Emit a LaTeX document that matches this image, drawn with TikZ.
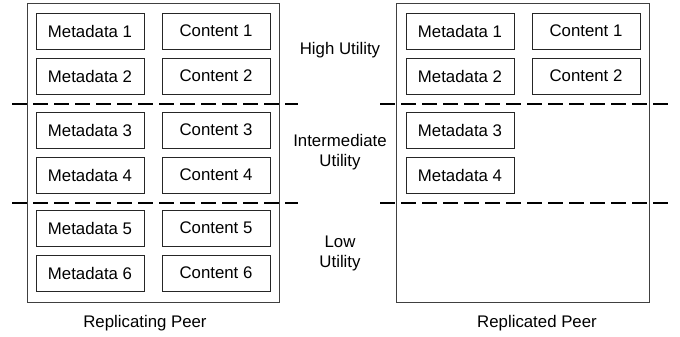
\documentclass[tikz,border=0pt]{standalone}
\usepackage{fontspec}
\setmainfont{Liberation Sans}
\begin{document}
\begin{tikzpicture}[x=1pt,y=-1pt,
  cell/.style={draw=black!85, line width=0.9pt, minimum width=108pt, minimum height=36pt, inner sep=0pt, font=\fontsize{16.8}{20}\selectfont},
  peer/.style={draw=black!75, line width=1pt},
  sep/.style={line width=2pt, dash pattern=on 15pt off 6pt},
  lbl/.style={font=\fontsize{16.8}{20}\selectfont, align=center}]
\useasboundingbox (0,0) rectangle (680,337);
% outer boxes
\draw[peer] (27,4) rectangle (279,302);
\draw[peer] (396,4) rectangle (649,302);
% left peer cells
\node[cell] (lm1) at (90,31) {Metadata 1};
\node[cell] (lc1) at (216,31) {Content 1};
\node[cell] (lm2) at (90,76) {Metadata 2};
\node[cell] (lc2) at (216,76) {Content 2};
\node[cell] (lm3) at (90,130) {Metadata 3};
\node[cell] (lc3) at (216,130) {Content 3};
\node[cell] (lm4) at (90,175) {Metadata 4};
\node[cell] (lc4) at (216,175) {Content 4};
\node[cell] (lm5) at (90,228) {Metadata 5};
\node[cell] (lc5) at (216,228) {Content 5};
\node[cell] (lm6) at (90,273) {Metadata 6};
\node[cell] (lc6) at (216,273) {Content 6};
% right peer cells
\node[cell] (rm1) at (460,31) {Metadata 1};
\node[cell] (rc1) at (586,31) {Content 1};
\node[cell] (rm2) at (460,76) {Metadata 2};
\node[cell] (rc2) at (586,76) {Content 2};
\node[cell] (rm3) at (460,130) {Metadata 3};
\node[cell] (rm4) at (460,175) {Metadata 4};
% separators
\draw[sep] (12,104) -- (298,104);
\draw[sep] (380,104) -- (668,104);
\draw[sep] (12,203) -- (298,203);
\draw[sep] (380,203) -- (668,203);
% labels
\node[lbl] (hu) at (340,50) {High Utility};
\node[lbl] (iu) at (340,152) {Intermediate\\Utility};
\node[lbl] (lu) at (340,253) {Low\\Utility};
\node[lbl] (rp1) at (145,323) {Replicating Peer};
\node[lbl] (rp2) at (537,323) {Replicated Peer};
\end{tikzpicture}
\end{document}
